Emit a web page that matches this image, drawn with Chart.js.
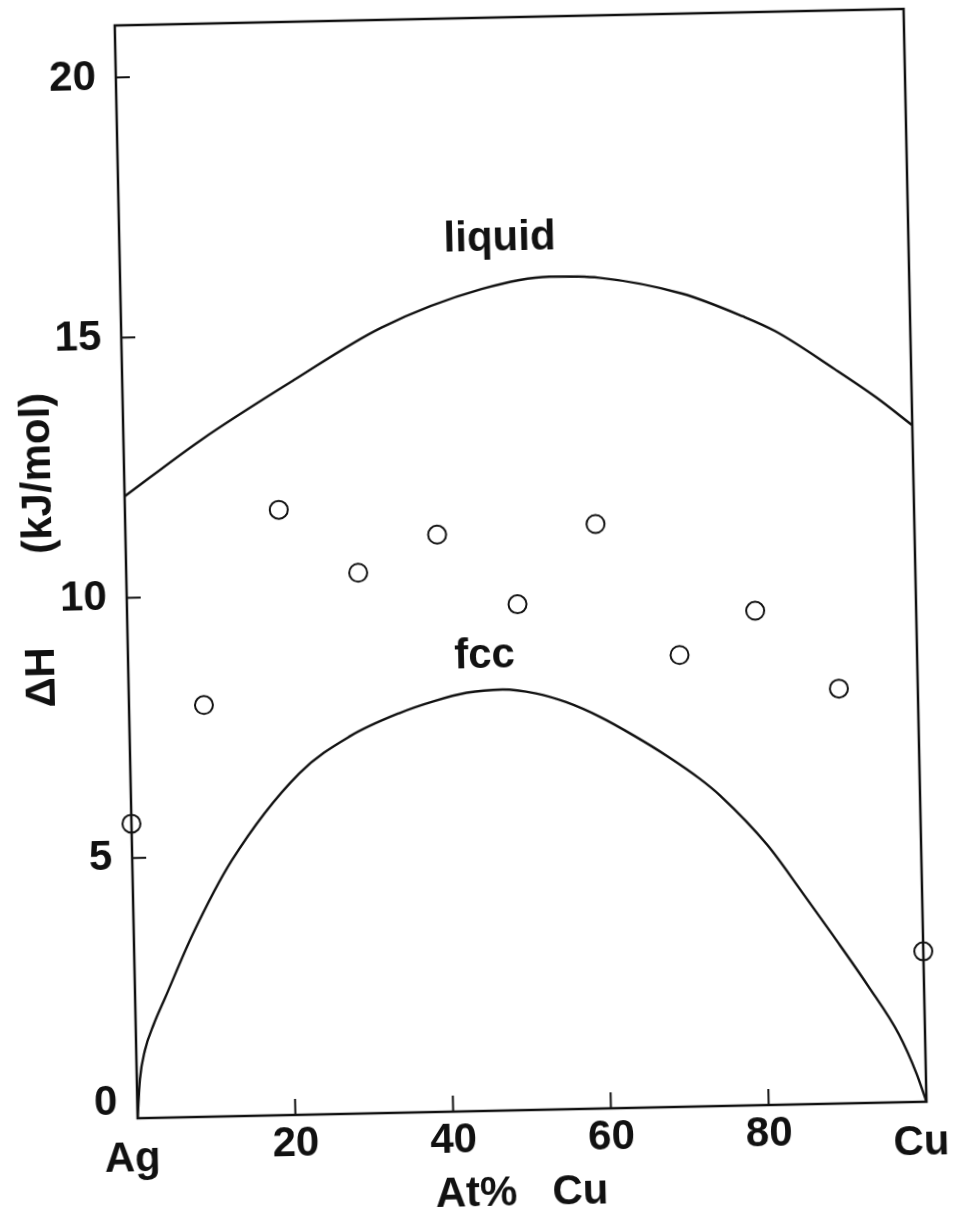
<!DOCTYPE html>
<html>
<head>
<meta charset="utf-8">
<title>Ag-Cu mixing enthalpy</title>
<script src="https://cdn.jsdelivr.net/npm/chart.js@4.4.1/dist/chart.umd.min.js"></script>
<style>
  html, body { margin: 0; padding: 0; background: #fff; overflow: hidden; }
  /* the printed figure sits slightly tilted on the page */
  #chart { display: block; transform: rotate(-1.2deg); transform-origin: 478px 607px; }
</style>
</head>
<body>
<canvas id="chart" width="956" height="1215"></canvas>
<script>
// measured points (open circles)
const compositions = [0, 9.5, 19.5, 29.4, 39.5, 49.5, 59.6, 69.9, 79.6, 90.0, 100]
const measuredH = [5.66, 7.91, 11.63, 10.39, 11.09, 9.72, 11.23, 8.68, 9.50, 7.97, 2.89]

// liquid curve
const liquidX = [0, 9.8, 21.8, 33.0, 45.8, 54.4, 60.7, 71.2, 78.8, 82.9, 90.4, 95.5, 100]
const liquidH = [11.95, 13.0, 14.12, 15.09, 15.79, 16.0, 15.96, 15.62, 15.16, 14.86, 14.1, 13.55, 13.0]

// fcc curve
const fccX = [0, 0.4, 1.1, 2.3, 3.8, 7.5, 12.6, 21.4, 27.9, 34.3, 38.6, 42.8, 47.4, 51.6, 55.4, 59.7,
    63.9, 68.1, 72.1, 74.7, 80.5, 84.6, 88.7, 92.9, 96.7, 98.8, 100]
const fccH = [0, 0.75, 1.3, 1.8, 2.3, 3.52, 4.91, 6.56, 7.25, 7.68, 7.89, 8.04, 8.09, 8.00, 7.82, 7.52,
    7.15, 6.74, 6.30, 5.96, 5.00, 4.12, 3.21, 2.25, 1.30, 0.55, 0]

// axes
const xTicks = [0, 20, 40, 60, 80, 100]
const xTickLabels = ['Ag ', '20', '40', '60', '80', 'Cu ']
const yTicks = [0, 5, 10, 15, 20]

// curve names, placed in data coordinates
const curveNames = ['liquid', 'fcc']
const curveNameX = [48.2, 45.2]
const curveNameY = [16.74, 8.73]

const ink = '#111'
const face = "'Liberation Sans', Arial, Helvetica, sans-serif"

const toPoints = (xs, ys) => xs.map((x, i) => ({ x: x, y: ys[i] }))

// frame, inward tick marks and curve names
const framePlugin = {
    id: 'framePlugin',
    afterDatasetsDraw(chart) {
        const { ctx, chartArea: a, scales: { x, y } } = chart
        ctx.save()
        ctx.strokeStyle = ink
        ctx.lineWidth = 2.5
        ctx.strokeRect(a.left, a.top, a.right - a.left, a.bottom - a.top)

        ctx.lineWidth = 2
        ctx.beginPath()
        xTicks.slice(1, -1).forEach(v => {
            const px = x.getPixelForValue(v)
            ctx.moveTo(px, a.bottom)
            ctx.lineTo(px, a.bottom - 16)
        })
        yTicks.slice(1).forEach(v => {
            const py = y.getPixelForValue(v)
            ctx.moveTo(a.left, py)
            ctx.lineTo(a.left + 14, py)
        })
        ctx.stroke()

        ctx.fillStyle = ink
        ctx.font = 'bold 42px ' + face
        ctx.textAlign = 'center'
        ctx.textBaseline = 'middle'
        curveNames.forEach((name, i) => {
            ctx.fillText(name, x.getPixelForValue(curveNameX[i]), y.getPixelForValue(curveNameY[i]))
        })
        ctx.restore()
    }
}

// Ag and Cu sit a bit lower than the numbers
const xTickFont = c => {
    const end = c.tick && (c.tick.value === 0 || c.tick.value === 100)
    return { family: face, size: 42, weight: 'bold', lineHeight: end ? 1.77 : 1.2 }
}

new Chart(document.getElementById('chart'), {
    type: 'scatter',
    data: {
        datasets: [{
            data: toPoints(compositions, measuredH),
            pointStyle: 'circle',
            pointRadius: 9,
            pointBorderWidth: 2,
            borderColor: ink,
            backgroundColor: 'rgba(0,0,0,0)',
            showLine: false,
            clip: false
        }, {
            data: toPoints(liquidX, liquidH),
            showLine: true,
            cubicInterpolationMode: 'monotone',
            borderColor: ink,
            borderWidth: 2.4,
            pointRadius: 0
        }, {
            data: toPoints(fccX, fccH),
            showLine: true,
            cubicInterpolationMode: 'monotone',
            borderColor: ink,
            borderWidth: 2.4,
            pointRadius: 0
        }]
    },
    options: {
        responsive: false,
        animation: false,
        devicePixelRatio: 1,
        layout: { padding: { top: 18, right: 40, left: 0, bottom: 0 } },
        plugins: {
            legend: { display: false },
            tooltip: { enabled: false }
        },
        scales: {
            x: {
                type: 'linear',
                min: 0,
                max: 100,
                grid: { display: false, drawTicks: false },
                border: { display: false },
                afterFit: s => {
                    s.height = 104
                    s.paddingLeft = 0
                    s.paddingRight = 0
                },
                ticks: {
                    stepSize: 20,
                    padding: 4,
                    color: ink,
                    font: xTickFont,
                    callback: v => xTickLabels[xTicks.indexOf(v)]
                },
                title: {
                    display: true,
                    text: 'At%   Cu  ',
                    color: ink,
                    padding: 0,
                    font: { family: face, size: 42, weight: 'bold', lineHeight: 1 }
                }
            },
            y: {
                type: 'linear',
                min: 0,
                max: 21,
                grid: { display: false, drawTicks: false },
                border: { display: false },
                afterFit: s => {
                    s.width = 127
                    s.paddingTop = 0
                    s.paddingBottom = 0
                },
                ticks: {
                    stepSize: 5,
                    includeBounds: false,
                    padding: 20,
                    color: ink,
                    font: { family: face, size: 42, weight: 'bold', lineHeight: 0.72 },
                    // the zero sits a little high, clear of the Ag label
                    callback: v => v === 0 ? ['0', ''] : String(v)
                },
                title: {
                    display: true,
                    text: '    ΔH        (kJ/mol)',
                    color: ink,
                    padding: { top: 20, bottom: 0 },
                    font: { family: face, size: 42, weight: 'bold', lineHeight: 1 }
                }
            }
        }
    },
    plugins: [framePlugin]
})
</script>
</body>
</html>
